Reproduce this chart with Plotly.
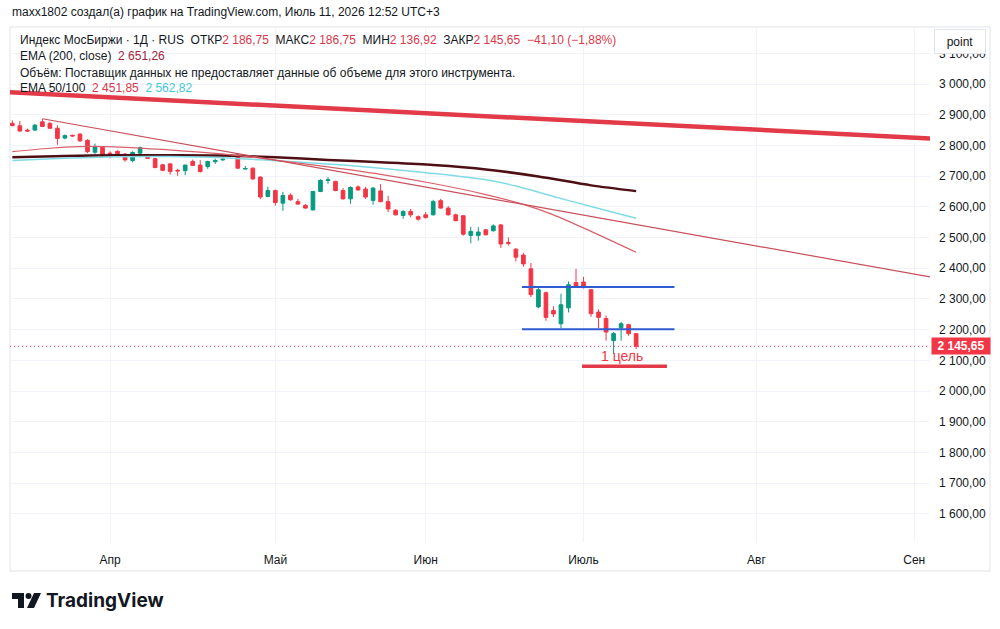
import plotly.graph_objects as go

# ---------------- data ----------------
opens  = [2872, 2864, 2850, 2850, 2877, 2872, 2856, 2824, 2833, 2837,
          2817, 2778, 2794, 2775, 2781, 2772, 2751, 2775, 2769, 2757,
          2737, 2740, 2719, 2718, 2748, 2736, 2731, 2747, 2753, 2765,
          2769, 2723, 2726, 2697, 2634, 2653, 2612, 2638, 2617, 2605,
          2590, 2650, 2686, 2683, 2653, 2626, 2665, 2658, 2621, 2652,
          2617, 2589, 2572, 2585, 2568, 2574, 2574, 2620, 2596, 2574,
          2571, 2507, 2507, 2525, 2522, 2541, 2484, 2462, 2443, 2398,
          2274, 2320, 2262, 2219, 2271, 2353, 2355, 2330, 2257, 2236,
          2164, 2206, 2216, 2186.75]
highs  = [2882, 2880, 2855, 2870, 2887, 2876, 2866, 2836, 2835, 2840,
          2820, 2806, 2796, 2781, 2784, 2775, 2781, 2797, 2772, 2760,
          2740, 2742, 2724, 2738, 2754, 2752, 2750, 2757, 2763, 2772,
          2771, 2733, 2728, 2699, 2666, 2656, 2649, 2644, 2626, 2609,
          2652, 2690, 2697, 2685, 2661, 2667, 2670, 2665, 2665, 2674,
          2636, 2593, 2589, 2593, 2572, 2583, 2623, 2626, 2602, 2578,
          2574, 2535, 2534, 2528, 2543, 2544, 2500, 2466, 2450, 2417,
          2336, 2324, 2276, 2317, 2357, 2398, 2372, 2332, 2266, 2246,
          2192, 2225, 2219, 2186.75]
lows   = [2862, 2845, 2846, 2848, 2860, 2854, 2802, 2820, 2829, 2812,
          2775, 2772, 2762, 2758, 2762, 2747, 2745, 2772, 2756, 2726,
          2716, 2705, 2701, 2703, 2733, 2712, 2724, 2740, 2750, 2762,
          2724, 2722, 2688, 2625, 2631, 2604, 2587, 2620, 2607, 2594,
          2588, 2648, 2675, 2651, 2624, 2610, 2653, 2626, 2607, 2615,
          2583, 2572, 2561, 2566, 2555, 2562, 2572, 2594, 2572, 2553,
          2506, 2481, 2490, 2507, 2520, 2466, 2474, 2422, 2405, 2306,
          2270, 2229, 2241, 2205, 2256, 2338, 2334, 2242, 2205, 2164,
          2121, 2164, 2180, 2136.92]
closes = [2865, 2847, 2847, 2866, 2862, 2856, 2823, 2832, 2831, 2815,
          2780, 2796, 2769, 2773, 2766, 2753, 2777, 2793, 2758, 2728,
          2719, 2715, 2717, 2736, 2735, 2715, 2748, 2751, 2755, 2768,
          2726, 2725, 2691, 2632, 2653, 2614, 2637, 2623, 2609, 2596,
          2650, 2686, 2688, 2653, 2626, 2663, 2655, 2632, 2661, 2617,
          2593, 2574, 2585, 2574, 2560, 2565, 2617, 2596, 2574, 2555,
          2511, 2520, 2518, 2509, 2538, 2479, 2481, 2436, 2414, 2314,
          2330, 2240, 2251, 2281, 2346, 2341, 2339, 2252, 2240, 2192,
          2187, 2219, 2186.75, 2145.65]
bar_idx = list(range(len(opens)))   # trading-day index, 0 = 13 Mar

month_tick_idx = [13, 35, 55, 76, 99, 120]
month_labels = ["Апр", "Май", "Июн", "Июль", "Авг", "Сен"]

ema200_idx = [0, 7, 14, 21, 28, 35, 42, 49, 56, 63, 70, 77, 83]
ema200_val = [2762, 2766, 2768, 2768, 2767, 2762, 2753, 2745, 2736, 2722, 2699, 2670, 2651.26]
ema100_idx = [0, 7, 14, 21, 28, 35, 42, 49, 56, 63, 67, 72, 77, 83]
ema100_val = [2751, 2758, 2763, 2764, 2760, 2750, 2740, 2726, 2709, 2688, 2668, 2634, 2601, 2562.82]
ema50_idx = [0, 5, 10, 15, 20, 25, 30, 35, 42, 49, 56, 63, 68, 72, 77, 83]
ema50_val = [2780, 2791, 2797, 2794, 2787, 2778, 2767, 2752, 2730, 2706, 2676, 2640, 2608, 2574, 2520, 2451.85]

thick_trend_idx = [-0.31, 122.1]
thick_trend_val = [2973, 2823]
thin_trend_idx = [4, 122.1]
thin_trend_val = [2887, 2372]
level_idx = [67.8, 88.1]
level_upper = 2339
level_lower = 2201
target_idx = [75.8, 87.1]
target_val = 2081
target_label = "1 цель"

y_ticks = list(range(1600, 3101, 100))

# ---------------- styling ----------------
GREEN = "#089981"
RED = "#f23645"
TXT = "#131722"
GRID = "#f0f3fa"
FONT = "Liberation Sans, Arial, sans-serif"

W, H = 1000, 629
PL, PR, PT, PB = 10, 930, 27, 542   # plot area in pixels


def px_x(p):
    return (p - PL) / (PR - PL)


def px_y(p):
    return (PB - p) / (PB - PT)


def rus(v):
    return f"{v:,.2f}".replace(",", " ").replace(".", ",")


fig = go.Figure()

fig.add_trace(go.Scatter(x=thick_trend_idx, y=thick_trend_val, mode="lines",
                         line=dict(color="#e23a48", width=4.5), hoverinfo="skip"))
fig.add_trace(go.Scatter(x=ema200_idx, y=ema200_val, mode="lines",
                         line=dict(color="#4d0f14", width=2.5, shape="spline", smoothing=0.8),
                         hoverinfo="skip"))
fig.add_trace(go.Scatter(x=ema100_idx, y=ema100_val, mode="lines",
                         line=dict(color="#80dbe6", width=1.5, shape="spline", smoothing=0.8),
                         hoverinfo="skip"))
fig.add_trace(go.Scatter(x=ema50_idx, y=ema50_val, mode="lines",
                         line=dict(color="#d9606a", width=1.2, shape="spline", smoothing=0.8),
                         hoverinfo="skip"))
fig.add_trace(go.Scatter(x=thin_trend_idx, y=thin_trend_val, mode="lines",
                         line=dict(color="#c8505a", width=1.2), hoverinfo="skip"))
# last close dotted line
fig.add_trace(go.Scatter(x=[thick_trend_idx[0], thick_trend_idx[1]], y=[closes[-1], closes[-1]],
                         mode="lines", line=dict(color=RED, width=1, dash="1px,3px"), hoverinfo="skip"))

fig.add_trace(go.Candlestick(
    x=bar_idx, open=opens, high=highs, low=lows, close=closes,
    increasing=dict(line=dict(color=GREEN, width=1), fillcolor=GREEN),
    decreasing=dict(line=dict(color=RED, width=1), fillcolor=RED),
    whiskerwidth=0, hoverinfo="skip"))

fig.add_trace(go.Scatter(x=level_idx, y=[level_upper, level_upper], mode="lines",
                         line=dict(color="#2f5bd3", width=2), hoverinfo="skip"))
fig.add_trace(go.Scatter(x=level_idx, y=[level_lower, level_lower], mode="lines",
                         line=dict(color="#2f5bd3", width=2), hoverinfo="skip"))
fig.add_trace(go.Scatter(x=target_idx, y=[target_val, target_val], mode="lines",
                         line=dict(color="#e23a48", width=3.5), hoverinfo="skip"))

ann = []
ann.append(dict(x=(target_idx[0] + target_idx[1]) / 2 - 0.3, y=target_val + 34, xref="x", yref="y",
                text=target_label, showarrow=False, font=dict(family=FONT, size=14, color=RED)))

# header texts
ann.append(dict(x=px_x(10), y=px_y(12), xref="paper", yref="paper", xanchor="left", yanchor="middle",
                showarrow=False, font=dict(family=FONT, size=12, color=TXT),
                text="maxx1802 создал(а) график на TradingView.com, Июль 11, 2026 12:52 UTC+3"))

VC = "#d8384a"
chg = closes[-1] - closes[-2]
pct = chg / closes[-2] * 100
sp = "\u00a0\u00a0"
line1 = ("Индекс МосБиржи · 1Д · RUS" + sp +
         f"ОТКР<span style='color:{VC}'>{rus(opens[-1])}</span>" + sp +
         f"МАКС<span style='color:{VC}'>{rus(highs[-1])}</span>" + sp +
         f"МИН<span style='color:{VC}'>{rus(lows[-1])}</span>" + sp +
         f"ЗАКР<span style='color:{VC}'>{rus(closes[-1])}</span>" + sp +
         f"<span style='color:{VC}'>−{rus(abs(chg))} (−{rus(abs(pct))}%)</span>")
ann.append(dict(x=px_x(18), y=px_y(40), xref="paper", yref="paper", xanchor="left", yanchor="middle",
                showarrow=False, font=dict(family=FONT, size=12, color=TXT), text=line1))
ann.append(dict(x=px_x(18), y=px_y(56), xref="paper", yref="paper", xanchor="left", yanchor="middle",
                showarrow=False, font=dict(family=FONT, size=12, color=TXT),
                text=f"EMA (200, close)\u00a0\u00a0<span style='color:#a3243a'>{rus(ema200_val[-1])}</span>"))
ann.append(dict(x=px_x(18), y=px_y(73), xref="paper", yref="paper", xanchor="left", yanchor="middle",
                showarrow=False, font=dict(family=FONT, size=12, color=TXT),
                text="Объём: Поставщик данных не предоставляет данные об объеме для этого инструмента."))
ann.append(dict(x=px_x(18), y=px_y(88), xref="paper", yref="paper", xanchor="left", yanchor="middle",
                showarrow=False, font=dict(family=FONT, size=12, color=TXT),
                text=f"EMA 50/100\u00a0\u00a0<span style='color:{VC}'>{rus(ema50_val[-1])}</span>\u00a0\u00a0"
                     f"<span style='color:#3fc8d8'>{rus(ema100_val[-1])}</span>"))

# last price label on the axis
ann.append(dict(x=1, y=closes[-1], xref="paper", yref="y", xanchor="left", yanchor="middle",
                xshift=1, showarrow=False, text=f"<b>{rus(closes[-1])}</b>", width=56, height=14,
                bgcolor=RED, font=dict(family=FONT, size=12, color="white"), borderpad=1))

# "point" button
ann.append(dict(x=px_x(960), y=px_y(42), xref="paper", yref="paper", xanchor="center", yanchor="middle",
                showarrow=False, text="point", width=46, height=19, bgcolor="white",
                bordercolor="#e0e3eb", borderwidth=1, borderpad=2,
                font=dict(family=FONT, size=12, color=TXT)))

# TradingView wordmark
ann.append(dict(x=px_x(44), y=px_y(600), xref="paper", yref="paper", xanchor="left", yanchor="middle",
                showarrow=False, text="<b>TradingView</b>",
                font=dict(family="Inter, Liberation Sans, sans-serif", size=19, color=TXT)))

shapes = []
# outer frame
shapes.append(dict(type="rect", xref="paper", yref="paper", x0=px_x(10), x1=px_x(990),
                   y0=px_y(571), y1=px_y(27), line=dict(color="#e0e3eb", width=1), layer="below"))


def ppath(points):
    s = ""
    for i, (a, b) in enumerate(points):
        s += ("M" if i == 0 else "L") + f"{px_x(a):.5f},{px_y(b):.5f} "
    return s + "Z"


# logo glyphs
shapes.append(dict(type="path", xref="paper", yref="paper",
                   path=ppath([(12, 593), (24, 593), (24, 608), (18, 608), (18, 599), (12, 599)]),
                   fillcolor=TXT, line=dict(width=0)))
shapes.append(dict(type="circle", xref="paper", yref="paper", x0=px_x(25.5), x1=px_x(31.5),
                   y0=px_y(599), y1=px_y(593), fillcolor=TXT, line=dict(width=0)))
shapes.append(dict(type="path", xref="paper", yref="paper",
                   path=ppath([(34, 593), (41, 593), (34, 608), (27, 608)]),
                   fillcolor=TXT, line=dict(width=0)))

fig.update_layout(
    width=W, height=H,
    margin=dict(l=PL, r=W - PR, t=PT, b=H - PB),
    paper_bgcolor="white", plot_bgcolor="white",
    showlegend=False, separators=", ",
    font=dict(family=FONT, size=12, color=TXT),
    annotations=ann, shapes=shapes,
    xaxis=dict(range=[thick_trend_idx[0], thick_trend_idx[1]], tickvals=month_tick_idx,
               ticktext=month_labels, showgrid=True, gridcolor=GRID, gridwidth=1,
               zeroline=False, showline=False, ticks="", ticklabelstandoff=9,
               rangeslider=dict(visible=False), fixedrange=True,
               tickfont=dict(family="Liberation Sans Narrow, Liberation Sans, sans-serif", size=12, color=TXT)),
    yaxis=dict(range=[1508, 3186], side="right", tickvals=y_ticks, tickformat=",.2f",
               showgrid=True, gridcolor=GRID, gridwidth=1, zeroline=False, showline=False,
               ticks="", ticklabelstandoff=8, fixedrange=True,
               tickfont=dict(family=FONT, size=12, color=TXT)),
)

fig.write_html("out.html", config={"displayModeBar": False, "staticPlot": True})
